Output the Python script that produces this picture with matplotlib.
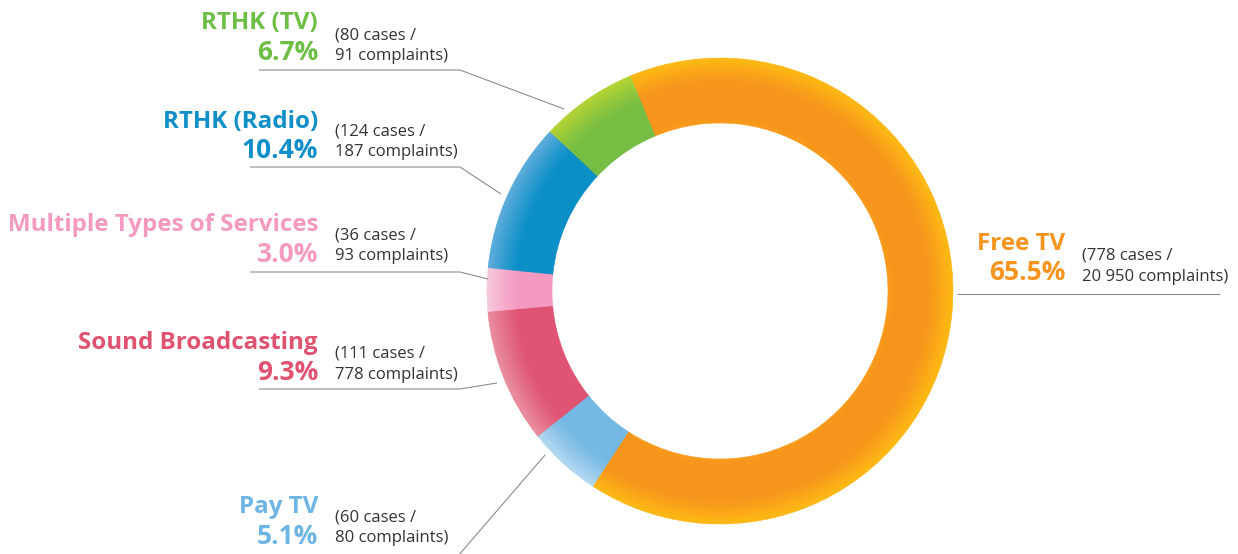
import numpy as np
import matplotlib
matplotlib.use("Agg")
import matplotlib.pyplot as plt
from matplotlib.colors import to_rgb

# Slices in clockwise order, starting at the top with Free TV
services = ["Free TV", "Pay TV", "Sound Broadcasting", "Multiple Types of Services",
            "RTHK (Radio)", "RTHK (TV)"]
shares = [65.5, 5.1, 9.3, 3.0, 10.4, 6.7]
cases = [778, 60, 111, 36, 124, 80]
complaints = ["20 950", "80", "778", "93", "187", "91"]

base_colors = ["#F7941D", "#74B8E4", "#DE5472", "#F49AC1", "#0A8FC7", "#76BE43"]
edge_colors = ["#FDB913", "#B2D7F1", "#E98C9E", "#F8C8DD", "#5CABDA", "#B3D335"]
title_colors = ["#F7941D", "#6DB5E5", "#DF5270", "#F49AC1", "#0E8FC9", "#6DBE45"]

W, H = 1238, 554
fig = plt.figure(figsize=(W / 100, H / 100), dpi=100)
ax = fig.add_axes([0, 0, 1, 1])

cx, cy = 720, H - 291
r_out, r_in = 233, 168
n_rings = 30
radii = np.linspace(r_in, r_out, n_rings + 1)
dr = radii[1] - radii[0]


def shade(i, t):
    b = np.array(to_rgb(base_colors[i]))
    e = np.array(to_rgb(edge_colors[i]))
    if i == 0:
        # orange band, yellow towards outer edge, a hint of yellow at inner edge
        w = max(0.0, (t - 0.6) / 0.4) ** 1.3 + 0.25 * max(0.0, (0.12 - t) / 0.12)
    else:
        w = max(0.0, (t - 0.55) / 0.45) ** 1.2
    w = min(w, 1.0)
    return tuple(b * (1 - w) + e * w)


for k in range(n_rings):
    r = radii[k + 1]
    t = (radii[k] + dr / 2 - r_in) / (r_out - r_in)
    cols = [shade(i, t) for i in range(len(shares))]
    wedges, _ = ax.pie(shares, radius=r, center=(cx, cy), startangle=112.7,
                       counterclock=False, colors=cols, frame=True,
                       wedgeprops=dict(width=dr * 1.6 if k > 0 else dr, linewidth=0.4))
    for w_, c in zip(wedges, cols):
        w_.set_edgecolor(c)

# labels: (title right x, title y, pct y, detail y1, detail y2, line points)
label_pos = {
    "Free TV": (1065, 244, 272, 255, 277, [(957, 294), (1220, 294)]),
    "Pay TV": (318, 507, 536, 517, 538, [(458, 556), (545, 455)]),
    "Sound Broadcasting": (318, 343, 372, 353, 375, [(259, 389), (460, 389), (497, 383)]),
    "Multiple Types of Services": (318, 225, 254, 235, 256, [(250, 272), (460, 272), (488, 279)]),
    "RTHK (Radio)": (318, 122, 150, 131, 152, [(250, 167), (460, 167), (501, 194)]),
    "RTHK (TV)": (318, 23, 53, 35, 56, [(259, 70), (460, 70), (564, 109)]),
}

title_font = ["Open Sans", "DejaVu Sans"]
for i, name in enumerate(services):
    tx, ty, py, d1, d2, pts = label_pos[name]
    ax.text(tx, H - ty, name, ha="right", va="center", fontsize=17.4,
            fontweight="bold", color=title_colors[i], family=title_font)
    ax.text(tx, H - py, f"{shares[i]:.1f}%", ha="right", va="center", fontsize=19,
            fontweight="bold", color=title_colors[i], family=title_font)
    ax.text(tx + 17, H - d1, f"({cases[i]} cases /", ha="left", va="center",
            fontsize=12, color="#333333", family=title_font)
    ax.text(tx + 17, H - d2, f"{complaints[i]} complaints)", ha="left", va="center",
            fontsize=12, color="#333333", family=title_font)
    xs = [p[0] for p in pts]
    ys = [H - p[1] for p in pts]
    ax.plot(xs, ys, color="#8C8C8C", linewidth=0.8, solid_capstyle="butt")

ax.set_xlim(0, W)
ax.set_ylim(0, H)
ax.set_aspect("equal")
ax.axis("off")

fig.savefig("out.png", dpi=100, facecolor="white")
